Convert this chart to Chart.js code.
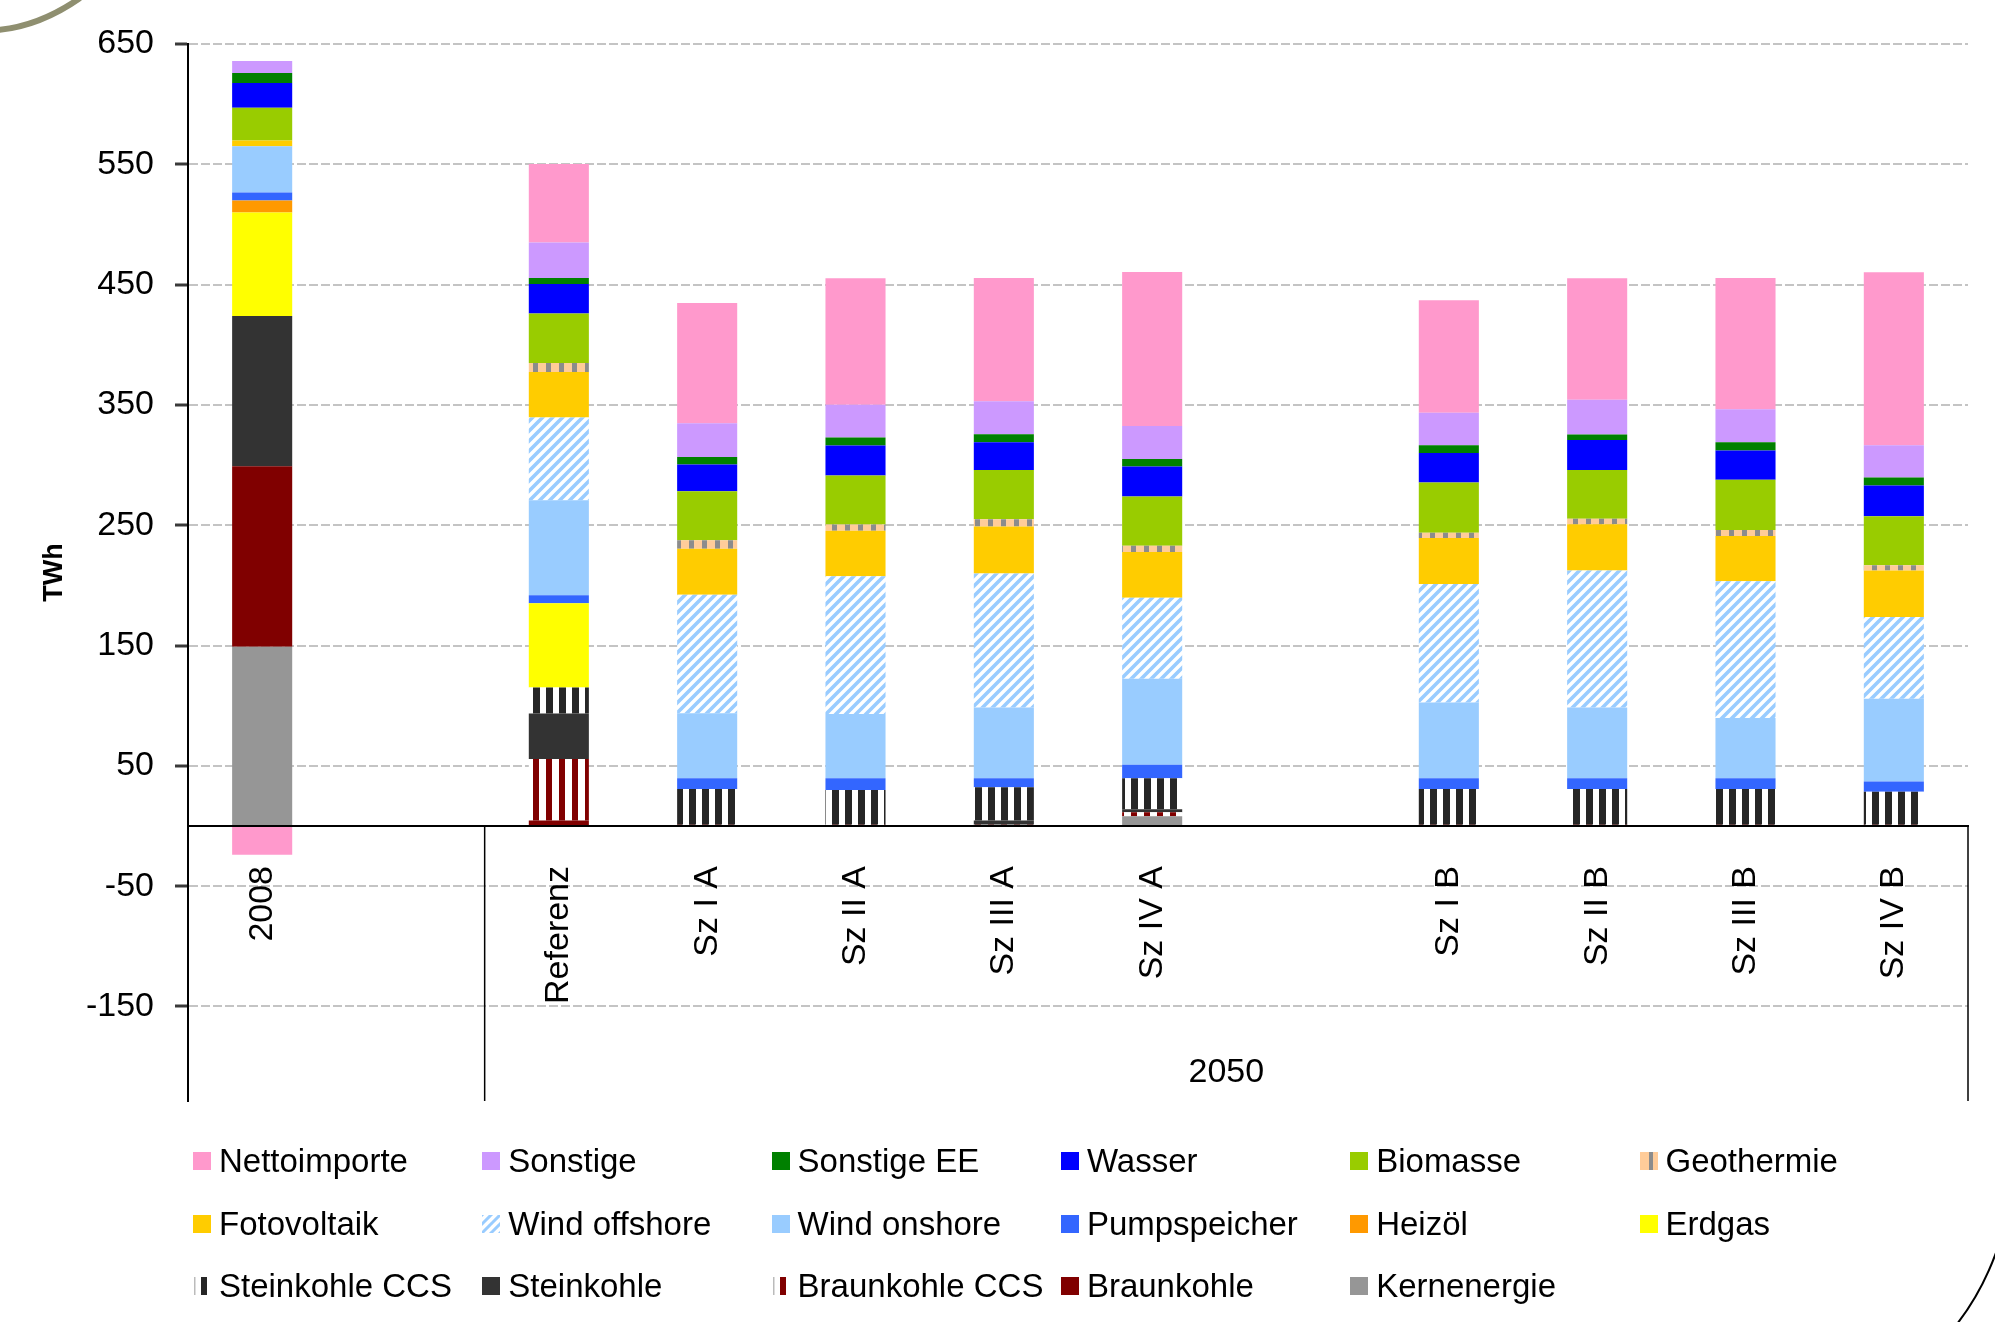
<!DOCTYPE html>
<html><head><meta charset="utf-8">
<script src="https://cdn.jsdelivr.net/npm/chart.js@4"></script>
<style>
html,body{margin:0;padding:0;background:#fff;}
#wrap{position:relative;width:1995px;height:1322px;overflow:hidden;font-family:'Liberation Sans',Arial,sans-serif;}
#c{position:absolute;left:0;top:0;}
.lg{position:absolute;display:flex;align-items:center;height:40px;font-size:33px;line-height:40px;color:#000;white-space:nowrap;}
.lg canvas{margin-right:8px;}
#deco{position:absolute;left:0;top:0;pointer-events:none;}
</style></head><body>
<div id="wrap">
<canvas id="c" width="1995" height="1322"></canvas>
<div id="legend"></div>
<svg id="deco" width="1995" height="1322">
<path d="M-2,30 Q40,26 80,-2" fill="none" stroke="#8f8f70" stroke-width="6"/>
<path d="M1957,1324 Q1982,1292 1997,1250" fill="none" stroke="#000" stroke-width="2"/>
</svg>
</div>
<script>
// ---------- data ----------
const categories = ['2008', '', 'Referenz', 'Sz I A', 'Sz II A', 'Sz III A', 'Sz IV A', '', 'Sz I B', 'Sz II B', 'Sz III B', 'Sz IV B'];
const groupLabel = '2050';
const yTickValues = [-150, -50, 50, 150, 250, 350, 450, 550, 650];
const yTitle = 'TWh';

const kernenergie   = [149,  null, 0,    0,    0,     0,     8,    null, 0,    0,     0,     0];
const braunkohle    = [150,  null, 4.6,  0,    0,     0,     0,    null, 0,    0,     0,     0];
const braunkohleCCS = [0,    null, 51,   1,    1,     1,     3.5,  null, 1,    1,     1,     1];
const steinkohle    = [125,  null, 38,   0,    0,     3.6,   2.5,  null, 0,    0,     0,     0];
const steinkohleCCS = [0,    null, 21.6, 29.7, 29,    27.6,  25.6, null, 29.7, 29.7,  29.7,  27.4];
const erdgas        = [86,   null, 70,   0,    0,     0,     0,    null, 0,    0,     0,     0];
const heizoel       = [10,   null, 0,    0,    0,     0,     0,    null, 0,    0,     0,     0];
const pumpspeicher  = [6.6,  null, 6.6,  8.9,  9.6,   7.4,   11.4, null, 8.9,  8.9,   8.9,   8.6];
const windOnshore   = [38.5, null, 79,   54.1, 53.4,  58.8,  71.3, null, 63,   58.8,  50.2,  68.7];
const windOffshore  = [0,    null, 68.7, 98.6, 114.6, 111.4, 67.4, null, 98.6, 113.9, 113.6, 68.1];
const fotovoltaik   = [4.7,  null, 37.9, 38.2, 37.9,  39.2,  38.1, null, 38.2, 38.5,  37.6,  38.5];
const geothermie    = [0,    null, 7.5,  7,    5.1,   6,     5.1,  null, 4.4,  4.5,   5,     4.5];
const biomasse      = [27.2, null, 41,   40.7, 40.8,  41,    41,   null, 41.7, 40.7,  41.7,  40.7];
const wasser        = [20.5, null, 24.6, 22.3, 24.8,  22.9,  24.9, null, 24.5, 24.9,  24.5,  25.5];
const sonstigeEE    = [8.3,  null, 5,    6.3,  6.7,   6.7,   6.3,  null, 6.4,  4.5,   6.7,   6.6];
const sonstige      = [10,   null, 29.4, 28,   27.3,  27.4,  27.4, null, 27,   28.9,  27.4,  26.8];
const nettoimporte  = [-24,  null, 65.4, 100,  105,   102.4, 128,  null, 93.6, 100.9, 109.1, 143.8];

// ---------- styles ----------
const canvas = document.getElementById('c');
const mainCtx = canvas.getContext('2d');
function tile(w, h, draw) { const t = document.createElement('canvas'); t.width = w; t.height = h; draw(t.getContext('2d'), w, h); return t; }
function vStripes(bg, fg, period, sw) {
  return mainCtx.createPattern(tile(period, period, (g, w, h) => { g.fillStyle = bg; g.fillRect(0, 0, w, h); g.fillStyle = fg; g.fillRect(0, 0, sw, h); }), 'repeat');
}
function diagTile(g, s, fg, lw) {
  g.fillStyle = '#fff'; g.fillRect(0, 0, s, s);
  g.strokeStyle = fg; g.lineWidth = lw; g.beginPath();
  [0, s, 2 * s].forEach(k => { g.moveTo(k + 2, -2); g.lineTo(-2, k + 2); });
  g.stroke();
}
function diag(fg, s, lw) { return mainCtx.createPattern(tile(s, s, (g) => diagTile(g, s, fg, lw)), 'repeat'); }

const styles = {
  'Kernenergie':    {color: '#969696'},
  'Braunkohle':     {color: '#800000'},
  'Braunkohle CCS': {pattern: () => vStripes('#ffffff', '#800000', 13, 6), swatch: 'stripe', fg: '#800000', bg: '#fff'},
  'Steinkohle':     {color: '#333333'},
  'Steinkohle CCS': {pattern: () => vStripes('#ffffff', '#262626', 13, 7), swatch: 'stripe', fg: '#262626', bg: '#fff'},
  'Erdgas':         {color: '#FFFF00'},
  'Heizöl':         {color: '#FF9900'},
  'Pumpspeicher':   {color: '#3366FF'},
  'Wind onshore':   {color: '#99CCFF'},
  'Wind offshore':  {pattern: () => diag('#99CCFF', 10, 3.6), swatch: 'diag'},
  'Fotovoltaik':    {color: '#FFCC00'},
  'Geothermie':     {pattern: () => vStripes('#FFCC99', '#8c8c8c', 13, 5), swatch: 'geo'},
  'Biomasse':       {color: '#99CC00'},
  'Wasser':         {color: '#0000FF'},
  'Sonstige EE':    {color: '#008000'},
  'Sonstige':       {color: '#CC99FF'},
  'Nettoimporte':   {color: '#FF99CC'}
};

const series = [
  ['Kernenergie', kernenergie], ['Braunkohle', braunkohle], ['Braunkohle CCS', braunkohleCCS],
  ['Steinkohle', steinkohle], ['Steinkohle CCS', steinkohleCCS], ['Erdgas', erdgas], ['Heizöl', heizoel],
  ['Pumpspeicher', pumpspeicher], ['Wind onshore', windOnshore], ['Wind offshore', windOffshore],
  ['Fotovoltaik', fotovoltaik], ['Geothermie', geothermie], ['Biomasse', biomasse], ['Wasser', wasser],
  ['Sonstige EE', sonstigeEE], ['Sonstige', sonstige], ['Nettoimporte', nettoimporte]
];

const FONT = "'Liberation Sans', Arial, sans-serif";

const datasets = series.map(([label, data]) => {
  const st = styles[label];
  return {
    label, data,
    backgroundColor: st.pattern ? st.pattern() : st.color,
    borderWidth: 0,
    stack: 's',
    barPercentage: 0.405,
    categoryPercentage: 1.0
  };
});

const groupPlugin = {
  id: 'groupLabels',
  afterDraw(chart) {
    const {ctx, chartArea, scales: {x, y}} = chart;
    const y0 = y.getPixelForValue(0);
    const sepX = (x.getPixelForValue(1) + x.getPixelForValue(2)) / 2;
    ctx.save();
    ctx.strokeStyle = '#000';
    ctx.lineWidth = 1.5;
    [sepX, chartArea.right].forEach(px => {
      ctx.beginPath(); ctx.moveTo(px, y0); ctx.lineTo(px, chartArea.bottom); ctx.stroke();
    });
    ctx.font = '34px ' + FONT;
    ctx.fillStyle = '#000';
    ctx.textAlign = 'center';
    ctx.textBaseline = 'middle';
    ctx.fillText(groupLabel, (sepX + chartArea.right) / 2, chartArea.bottom - 28);
    ctx.restore();
  }
};

new Chart(canvas, {
  type: 'bar',
  data: {labels: categories, datasets},
  plugins: [groupPlugin],
  options: {
    responsive: false,
    animation: false,
    events: [],
    layout: {padding: {left: 0, right: 27, top: 44, bottom: 221}},
    plugins: {legend: {display: false}, tooltip: {enabled: false}},
    scales: {
      x: {
        type: 'category',
        stacked: true,
        position: {y: 0},
        offset: true,
        grid: {display: false, drawTicks: false},
        border: {display: true, color: '#000', width: 2, z: 1},
        ticks: {
          autoSkip: false, minRotation: 90, maxRotation: 90, padding: 40,
          color: '#000', font: {family: FONT, size: 34}
        }
      },
      y: {
        stacked: true,
        min: -228.6,
        max: 650,
        afterBuildTicks: (scale) => { scale.ticks = yTickValues.map(v => ({value: v})); },
        afterFit: (scale) => { scale.width = 188; },
        grid: {color: '#c4c4c4', lineWidth: 2, drawTicks: true, tickLength: 13, tickColor: '#3a3a3a', tickWidth: 3, tickBorderDash: []},
        border: {display: true, color: '#000', width: 2, dash: [9, 3]},
        ticks: {color: '#000', padding: 21, font: {family: FONT, size: 34}},
        title: {display: true, text: yTitle, color: '#000', font: {family: FONT, size: 27, weight: 'bold'}, padding: {top: 38, bottom: 0}}
      }
    }
  }
});

// ---------- HTML legend ----------
const legendEl = document.getElementById('legend');
const legendOrder = series.map(s => s[0]).reverse();
legendOrder.forEach((label, i) => {
  const col = i % 6, row = Math.floor(i / 6);
  const item = document.createElement('div');
  item.className = 'lg';
  item.style.left = (193 + col * 289.3) + 'px';
  item.style.top = (1141 + row * 62.5) + 'px';
  const sw = document.createElement('canvas');
  sw.width = 18; sw.height = 18;
  const g = sw.getContext('2d');
  const st = styles[label];
  if (st.color) { g.fillStyle = st.color; g.fillRect(0, 0, 18, 18); }
  else if (st.swatch === 'diag') { diagTile(g, 9, '#99CCFF', 3); g.drawImage(sw, 9, 0); g.drawImage(sw, 0, 9); }
  else if (st.swatch === 'stripe') {
    g.fillStyle = '#fff'; g.fillRect(0, 0, 18, 18);
    g.fillStyle = '#bbb'; g.fillRect(1, 0, 1.5, 18);
    g.fillStyle = st.fg; g.fillRect(8, 0, 6, 18);
  } else if (st.swatch === 'geo') {
    g.fillStyle = '#FFCC99'; g.fillRect(0, 0, 18, 18);
    g.fillStyle = '#8c8c8c'; g.fillRect(9, 0, 4, 18);
  }
  item.appendChild(sw);
  const tx = document.createElement('span');
  tx.textContent = label;
  item.appendChild(tx);
  legendEl.appendChild(item);
});
</script>
</body></html>
